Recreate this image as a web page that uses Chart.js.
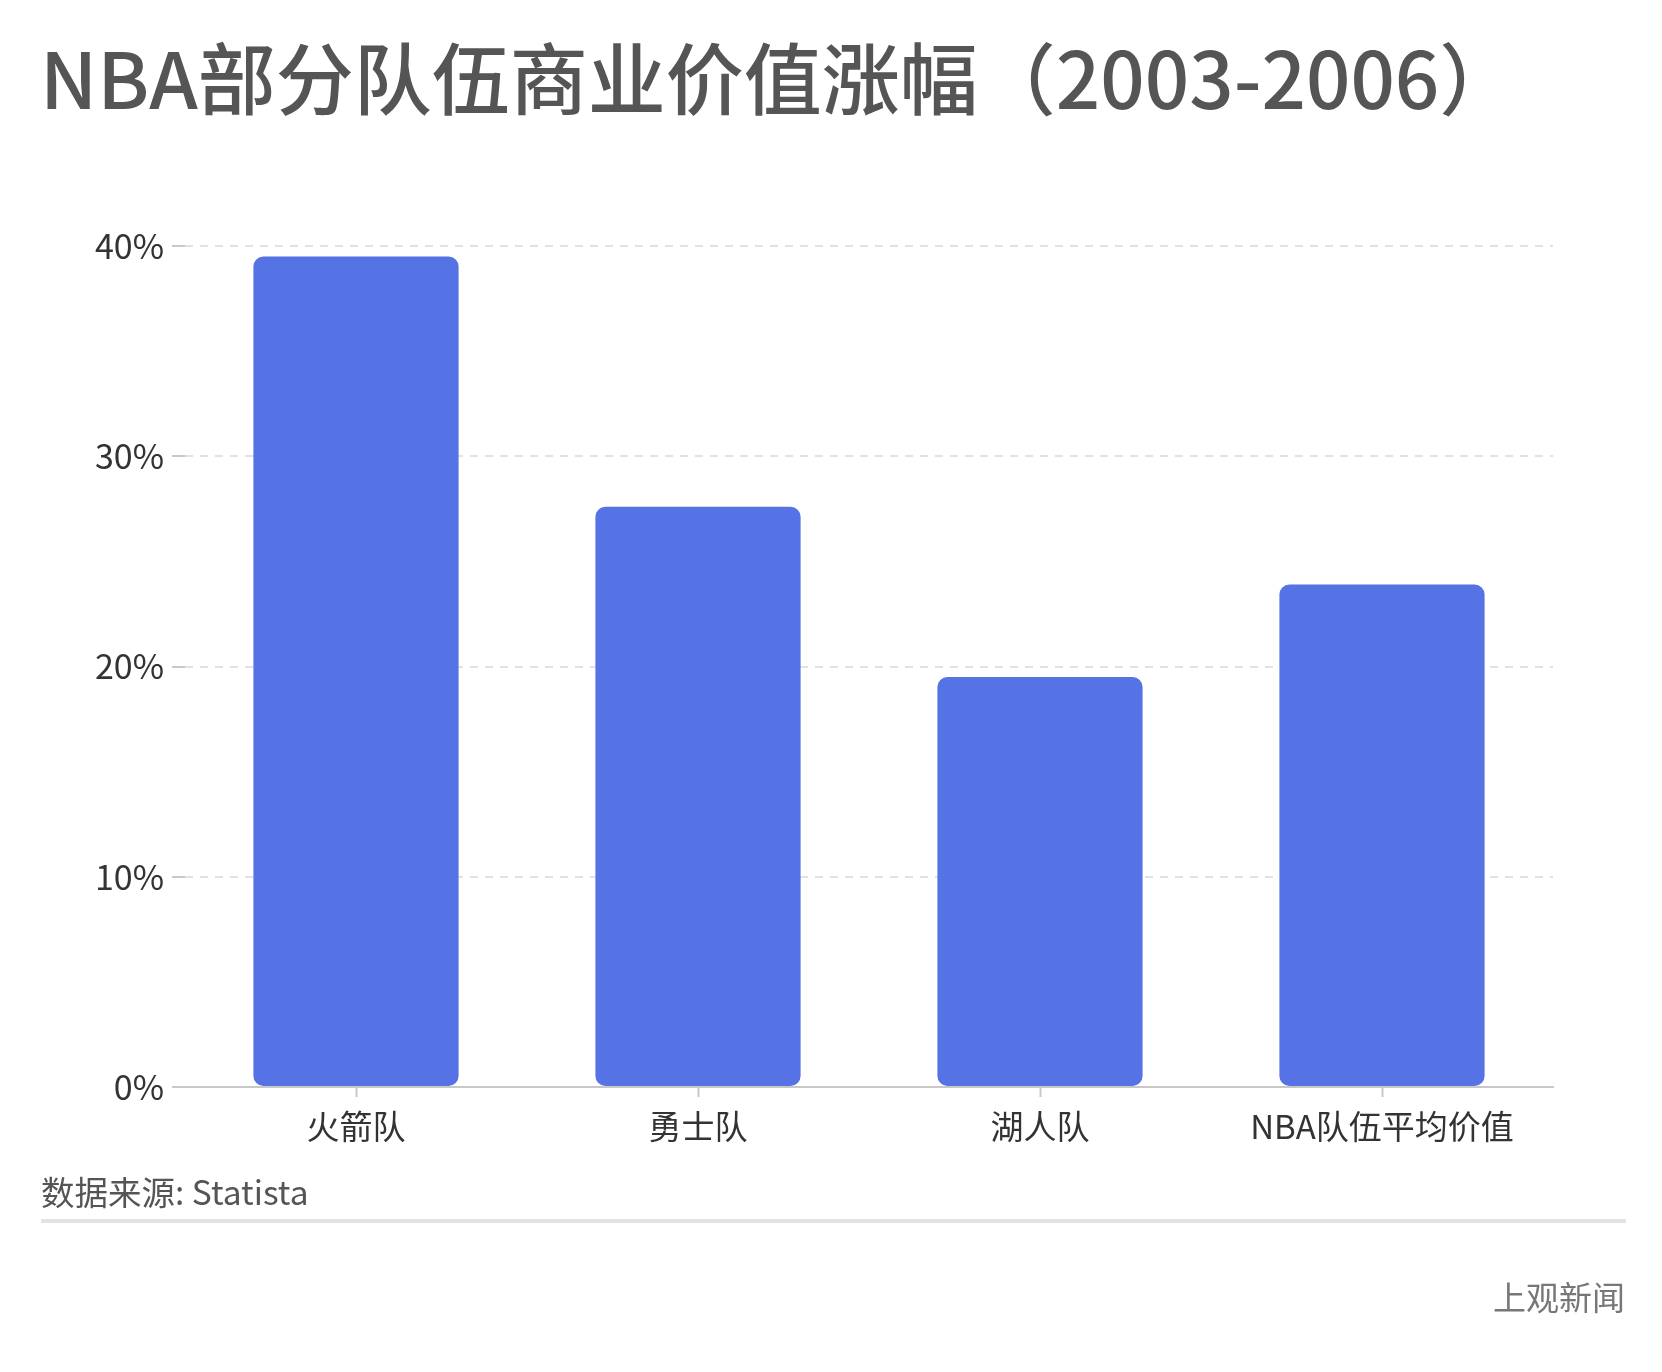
<!DOCTYPE html>
<html lang="zh">
<head>
<meta charset="utf-8">
<title>NBA部分队伍商业价值涨幅（2003-2006）</title>
<script src="https://cdn.jsdelivr.net/npm/chart.js@4/dist/chart.umd.min.js"></script>
<style>
  html, body { margin: 0; padding: 0; background: #fff; }
  #wrap { position: relative; width: 1662px; height: 1372px; }
</style>
</head>
<body>
<div id="wrap"><canvas id="chart" width="1662" height="1372"></canvas></div>
<script>
"use strict";

// ── Data ───────────────────────────────────────────────────────────── //
const TITLE      = "NBA部分队伍商业价值涨幅（2003-2006）";
const SOURCE     = "数据来源: Statista";
const BRAND      = "上观新闻";
const teams      = ["火箭队", "勇士队", "湖人队", "NBA队伍平均价值"];
const growthPct  = [39.5, 27.6, 19.5, 23.9];
const yTicks     = [0, 10, 20, 30, 40];

const FONT = "'Noto Sans CJK SC', 'Noto Sans', sans-serif";
const BAR  = "#5673E5";

// ── Page texts drawn on the same canvas ────────────────────────────── //
const pageText = {
  id: "pageText",
  afterDraw(chart) {
    const c = chart.ctx;
    c.save();
    c.textBaseline = "alphabetic";

    c.fillStyle = "#555555";
    c.font = `500 78px ${FONT}`;
    c.textAlign = "left";
    c.fillText(TITLE, 40, 109);

    c.fillStyle = "#555555";
    c.font = `33.5px ${FONT}`;
    c.fillText(SOURCE, 41, 1205);

    c.fillStyle = "#e3e3e3";
    c.fillRect(41, 1219, 1585, 4);

    c.fillStyle = "#777777";
    c.font = `33px ${FONT}`;
    c.textAlign = "right";
    c.fillText(BRAND, 1625, 1310);
    c.restore();
  },
};

// ── Chart ──────────────────────────────────────────────────────────── //
new Chart(document.getElementById("chart"), {
  type: "bar",
  data: {
    labels: teams,
    datasets: [{
      data: growthPct,
      backgroundColor: BAR,
      borderRadius: 10,
      borderSkipped: false,
      categoryPercentage: 1,
      barPercentage: 0.6,
    }],
  },
  options: {
    responsive: false,
    animation: false,
    devicePixelRatio: 1,
    layout: { padding: { top: 246, right: 109, bottom: 205, left: 0 } },
    plugins: { legend: { display: false }, tooltip: { enabled: false } },
    scales: {
      x: {
        grid: {
          offset: false,
          drawOnChartArea: false,
          tickLength: 10,
          tickColor: "#c8c8c8",
          tickWidth: 2,
        },
        border: { display: true, color: "#c8c8c8", width: 2 },
        ticks: { color: "#333333", font: { family: FONT, size: 33 }, padding: 10 },
        afterFit: s => { s.height = 80; },
      },
      y: {
        min: 0,
        max: 40,
        afterBuildTicks: s => { s.ticks = yTicks.map(v => ({ value: v })); },
        grid: {
          color: ctx => (ctx.tick && ctx.tick.value === 0 ? "#c8c8c8" : "#e2e2e2"),
          lineWidth: 2,
          tickLength: 13,
          tickColor: "#c8c8c8",
          tickWidth: 2,
          tickBorderDash: [],
        },
        border: {
          display: false,
          dash: ctx => (ctx.tick && ctx.tick.value === 0 ? [] : [8, 7]),
        },
        ticks: {
          color: "#333333",
          font: { family: FONT, size: 34 },
          padding: 8,
          callback: v => `${v}%`,
        },
        afterFit: s => { s.width = 185; },
      },
    },
  },
  plugins: [pageText],
});
</script>
</body>
</html>
